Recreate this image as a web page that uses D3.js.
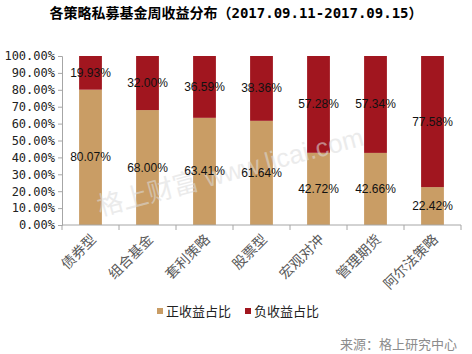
<!DOCTYPE html>
<html>
<head>
<meta charset="utf-8">
<script src="https://cdn.jsdelivr.net/npm/d3@7"></script>
<style>
body { margin: 0; background: #fff; }
svg { display: block; }
</style>
</head>
<body>
<svg width="472" height="354"></svg>
<script>
var categories = ["债券型", "组合基金", "套利策略", "股票型", "宏观对冲", "管理期货", "阿尔法策略"];
var positive = [80.07, 68.00, 63.41, 61.64, 42.72, 42.66, 22.42];
var negative = [19.93, 32.00, 36.59, 38.36, 57.28, 57.34, 77.58];
var seriesNames = ["正收益占比", "负收益占比"];
var colors = ["#C99D65", "#A1161F"];
var yTicks = [0, 10, 20, 30, 40, 50, 60, 70, 80, 90, 100];

var svg = d3.select("svg");
var plotLeft = 62, plotRight = 461, plotTop = 56, plotBottom = 225;

var x = d3.scaleBand().domain(categories).range([plotLeft, plotRight]).paddingInner(0.6).paddingOuter(0.3);
var y = d3.scaleLinear().domain([0, 100]).range([plotBottom, plotTop]);

// title
var title = svg.append("text")
  .attr("x", 236).attr("y", 18)
  .attr("text-anchor", "middle")
  .style("font-family", "'Noto Sans CJK SC', sans-serif")
  .style("font-weight", "bold")
  .style("font-size", "14px");
title.append("tspan").text("各策略私募基金周收益分布（");
title.append("tspan").style("font-family", "'DejaVu Sans Mono', monospace").text("2017.09.11-2017.09.15");
title.append("tspan").text("）");

var data = categories.map(function(c, i){ return {cat: c, pos: positive[i], neg: negative[i]}; });

// bars
svg.selectAll("rect.pos").data(data).join("rect").attr("class", "pos")
  .attr("x", function(d){ return x(d.cat); })
  .attr("width", x.bandwidth())
  .attr("y", function(d){ return y(d.pos); })
  .attr("height", function(d){ return y(0) - y(d.pos); })
  .attr("fill", colors[0]);
svg.selectAll("rect.neg").data(data).join("rect").attr("class", "neg")
  .attr("x", function(d){ return x(d.cat); })
  .attr("width", x.bandwidth())
  .attr("y", function(d){ return y(d.pos + d.neg); })
  .attr("height", function(d){ return y(d.pos) - y(d.pos + d.neg); })
  .attr("fill", colors[1]);

// watermark
svg.append("text")
  .attr("transform", "translate(100,216) rotate(-15)")
  .style("font-family", "'Liberation Sans', Arial, 'Noto Sans CJK SC', sans-serif")
  .style("font-size", "26px")
  .attr("fill", "#dcdcdc")
  .attr("opacity", 0.55)
  .text("格上财富 www.licai.com");

// data labels
function labels(cls, val, mid) {
  svg.selectAll("text." + cls).data(data).join("text").attr("class", cls)
    .attr("x", function(d){ return x(d.cat) + x.bandwidth() / 2; })
    .attr("y", function(d){ return y(mid(d)) + 4; })
    .attr("text-anchor", "middle")
    .style("font-family", "'Liberation Sans', Arial, sans-serif")
    .style("font-size", "12px")
    .attr("fill", "#111")
    .text(function(d){ return val(d).toFixed(2) + "%"; });
}
labels("lp", function(d){ return d.pos; }, function(d){ return d.pos / 2; });
labels("ln", function(d){ return d.neg; }, function(d){ return d.pos + d.neg / 2; });

// y axis
var yAxis = svg.append("g").attr("transform", "translate(" + plotLeft + ",0)")
  .call(d3.axisLeft(y).tickValues(yTicks).tickSize(4).tickFormat(function(d){ return d.toFixed(2) + "%"; }));
yAxis.select(".domain").attr("stroke", "#a6a6a6");
yAxis.selectAll(".tick line").attr("stroke", "#a6a6a6");
yAxis.selectAll(".tick text")
  .attr("x", -7)
  .style("font-family", "'DejaVu Sans Mono', monospace")
  .style("font-size", "12px")
  .attr("fill", "#222");

// x axis
var xAxis = svg.append("g").attr("transform", "translate(0," + plotBottom + ")");
xAxis.append("line").attr("x1", plotLeft).attr("x2", plotRight).attr("stroke", "#a6a6a6");
var bounds = d3.range(categories.length + 1).map(function(i){ return plotLeft + i * x.step(); });
xAxis.selectAll("line.tk").data(bounds).join("line").attr("class", "tk")
  .attr("x1", function(d){ return d; }).attr("x2", function(d){ return d; })
  .attr("y1", 0).attr("y2", 5).attr("stroke", "#a6a6a6");
xAxis.selectAll("text").data(categories).join("text")
  .attr("transform", function(d){ return "translate(" + (x(d) + x.bandwidth() / 2 + 3) + ",12) rotate(-45)"; })
  .attr("text-anchor", "end")
  .attr("dy", "0.35em")
  .style("font-family", "'Noto Sans CJK SC', sans-serif")
  .style("font-size", "14px")
  .attr("fill", "#595959")
  .text(function(d){ return d; });

// legend
var legX = [157, 245];
var leg = svg.selectAll("g.leg").data(seriesNames).join("g").attr("class", "leg")
  .attr("transform", function(d, i){ return "translate(" + legX[i] + ",311)"; });
leg.append("rect").attr("x", 0).attr("y", -3).attr("width", 6).attr("height", 6)
  .attr("fill", function(d, i){ return colors[i]; });
leg.append("text").attr("x", 9).attr("y", 5)
  .style("font-family", "'Noto Sans CJK SC', sans-serif")
  .style("font-size", "13px")
  .attr("fill", "#222")
  .text(function(d){ return d; });

// source
svg.append("text")
  .attr("x", 457).attr("y", 349)
  .attr("text-anchor", "end")
  .style("font-family", "'Noto Sans CJK SC', sans-serif")
  .style("font-size", "13px")
  .attr("fill", "#8c8c8c")
  .text("来源：格上研究中心");
</script>
</body>
</html>
